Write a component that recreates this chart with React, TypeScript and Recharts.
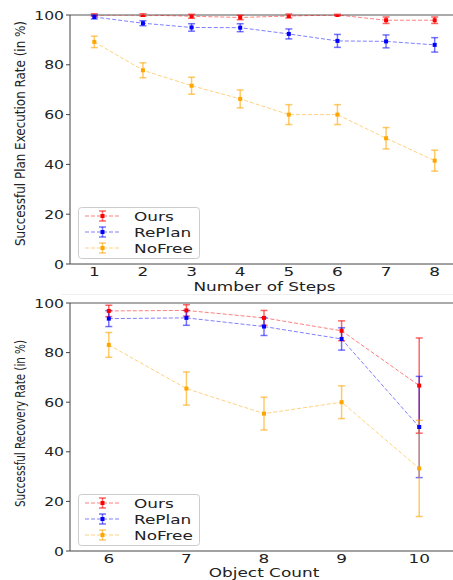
import React from 'react';
import { ComposedChart, Line, XAxis, YAxis, ErrorBar, ReferenceLine } from 'recharts';

// top panel: success rate vs number of steps
const steps = [1, 2, 3, 4, 5, 6, 7, 8];
const oursSteps = [100, 100, 99.5, 99, 99.6, 100, 97.9, 97.9];
const oursStepsErr = [0.5, 0.5, 0.8, 0.9, 0.8, 0.3, 1.3, 1.3];
const replanSteps = [99.2, 96.7, 95, 94.9, 92.4, 89.6, 89.4, 88];
const replanStepsErr = [0.8, 1, 1.5, 1.6, 2, 2.6, 2.6, 2.9];
const noFreeSteps = [89.2, 77.8, 71.6, 66.3, 60, 60, 50.5, 41.5];
const noFreeStepsErr = [2.3, 3, 3.4, 3.6, 4, 4, 4.3, 4.2];

// bottom panel: recovery rate vs object count
const objects = [6, 7, 8, 9, 10];
const oursObj = [96.8, 97, 94, 88.8, 66.7];
const oursObjErr = [2.3, 2.3, 3, 4, 19.2];
const replanObj = [93.7, 94, 90.5, 85.5, 50];
const replanObjErr = [3.2, 3, 3.6, 4.5, 20.4];
const noFreeObj = [83.1, 65.5, 55.4, 60, 33.3];
const noFreeObjErr = [5, 6.7, 6.6, 6.6, 19.4];

const yTicks = [0, 20, 40, 60, 80, 100];
const seriesNames = ['Ours', 'RePlan', 'NoFree'];
const seriesColors = ['#ff0000', '#0000ff', '#ffa500'];
const errColors = ['rgba(255,0,0,0.6)', 'rgba(0,0,255,0.55)', 'rgba(255,165,0,0.6)'];

const stepRows = steps.map((s, i) => ({
  x: s,
  ours: oursSteps[i], oursErr: oursStepsErr[i],
  replan: replanSteps[i], replanErr: replanStepsErr[i],
  nofree: noFreeSteps[i], nofreeErr: noFreeStepsErr[i],
}));

const objRows = objects.map((o, i) => ({
  x: o,
  ours: oursObj[i], oursErr: oursObjErr[i],
  replan: replanObj[i], replanErr: replanObjErr[i],
  nofree: noFreeObj[i], nofreeErr: noFreeObjErr[i],
}));

const FONT = 'DejaVu Sans';

const YTick = (props: any) => {
  const { x, y, payload } = props;
  return (
    <text transform={`translate(${x},${y}) scale(1.3,1)`} textAnchor="end" dy={4.5} fontSize={12} fill="#222" fontFamily={FONT}>
      {payload.value}
    </text>
  );
};

const XTick = (props: any) => {
  const { x, y, payload } = props;
  return (
    <text transform={`translate(${x},${y}) scale(1.3,1)`} textAnchor="middle" dy={10} fontSize={13} fill="#222" fontFamily={FONT}>
      {payload.value}
    </text>
  );
};

const squareDot = (color: string) => (p: any) => (
  <rect key={`d-${p.index}`} x={p.cx - 2} y={p.cy - 2} width={4} height={4} fill={color} />
);

const keys = ['ours', 'replan', 'nofree'];

function Panel({ rows, domain, ticks, height, xAxisH, right }: any) {
  return (
    <ComposedChart width={465} height={height} data={rows} margin={{ top: 15, right, left: 0, bottom: 1 }}>
      <XAxis type="number" dataKey="x" domain={domain} ticks={ticks} height={xAxisH} tickSize={0}
        axisLine={{ stroke: '#444' }} tick={<XTick />} interval={0} />
      <YAxis type="number" domain={[0, 100]} ticks={yTicks} width={70} tickSize={4}
        axisLine={{ stroke: '#444' }} tickLine={{ stroke: '#444' }} tick={<YTick />} allowDataOverflow />
      <ReferenceLine y={100} stroke="#aaa" strokeWidth={2} />
      {keys.map((k, i) => (
        <Line key={k} type="linear" dataKey={k} stroke={seriesColors[i]} strokeOpacity={0.5} strokeWidth={1}
          strokeDasharray="4 2" dot={squareDot(seriesColors[i])} activeDot={false} isAnimationActive={false}>
          <ErrorBar dataKey={`${k}Err`} direction="y" width={3.5} strokeWidth={1.5} stroke={errColors[i]} />
        </Line>
      ))}
    </ComposedChart>
  );
}

function LegendBox({ top }: { top: number }) {
  return (
    <g>
      <rect x={78.5} y={top + 0.5} width={121} height={51} rx={3} fill="#fff" fillOpacity={0.85} stroke="#ccc" />
      {seriesNames.map((name, i) => {
        const cy = top + 9 + i * 16;
        return (
          <g key={name}>
            <line x1={85} x2={120} y1={cy} y2={cy} stroke={seriesColors[i]} strokeOpacity={0.5} strokeDasharray="4 2" />
            <line x1={102.5} x2={102.5} y1={cy - 5} y2={cy + 5} stroke={errColors[i]} strokeWidth={1.5} />
            <line x1={99} x2={106} y1={cy - 5} y2={cy - 5} stroke={errColors[i]} strokeWidth={1.5} />
            <line x1={99} x2={106} y1={cy + 5} y2={cy + 5} stroke={errColors[i]} strokeWidth={1.5} />
            <rect x={100.5} y={cy - 2} width={4} height={4} fill={seriesColors[i]} />
            <text transform={`translate(134,${cy + 4.5}) scale(1.3,1)`} fontSize={13} fill="#222" fontFamily={FONT}>{name}</text>
          </g>
        );
      })}
    </g>
  );
}

export default function App() {
  return (
    <div style={{ position: 'relative', width: 453, height: 580, overflow: 'hidden', background: '#fff', fontFamily: FONT }}>
      <style>{'html,body{margin:0;padding:0;overflow:hidden;}'}</style>
      <div style={{ position: 'absolute', left: 0, top: 0 }}>
        <Panel rows={stepRows} domain={[0.5, 8.5]} ticks={steps} height={295} xAxisH={30} right={6} />
      </div>
      <div style={{ position: 'absolute', left: 0, top: 288 }}>
        <Panel rows={objRows} domain={[5.5, 10.5]} ticks={objects} height={292} xAxisH={28} right={7} />
      </div>
      <svg width={453} height={580} style={{ position: 'absolute', left: 0, top: 0, pointerEvents: 'none' }}>
        <line x1={62} x2={453} y1={294.5} y2={294.5} stroke="#eee" />
        <LegendBox top={207} />
        <LegendBox top={494} />
        <text transform="translate(25,133.5) rotate(-90)" textAnchor="middle" fontSize={14} fill="#222" fontFamily={FONT}
          textLength={225} lengthAdjust="spacingAndGlyphs">Successful Plan Execution Rate (in %)</text>
        <text transform="translate(25,423.5) rotate(-90)" textAnchor="middle" fontSize={14} fill="#222" fontFamily={FONT}
          textLength={167} lengthAdjust="spacingAndGlyphs">Successful Recovery Rate (in %)</text>
        <text transform="translate(264.5,291) scale(1.3,1)" textAnchor="middle" fontSize={13} fill="#222" fontFamily={FONT}>Number of Steps</text>
        <text transform="translate(264,576.5) scale(1.3,1)" textAnchor="middle" fontSize={13} fill="#222" fontFamily={FONT}>Object Count</text>
      </svg>
    </div>
  );
}
